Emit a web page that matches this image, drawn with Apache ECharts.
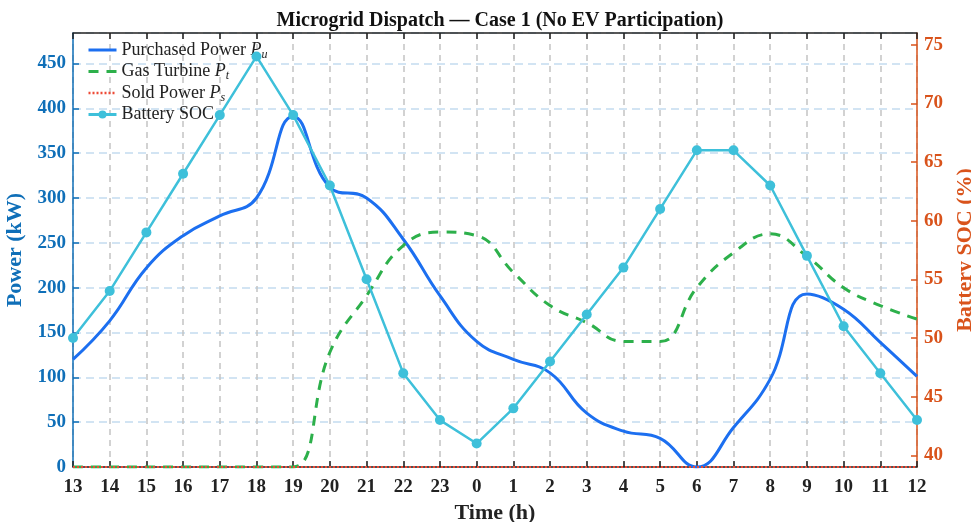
<!DOCTYPE html>
<html>
<head>
<meta charset="utf-8">
<script src="https://cdn.jsdelivr.net/npm/echarts@6/dist/echarts.min.js"></script>
<style>
  html, body { margin: 0; padding: 0; background: #fff; }
  #chart { width: 971px; height: 522px; }
</style>
</head>
<body>
<div id="chart"></div>
<script>
// hours, starting from 13:00 of day 1 to 12:00 of day 2
var hours = ['13','14','15','16','17','18','19','20','21','22','23','0','1','2','3','4','5','6','7','8','9','10','11','12'];

// power in kW
var purchased = [120,163,222,258,280,300,391,312,300,254,191,140,120,105,60,40,32,0,44,98,193,176,139,101];
var gasTurbine = [0,0,0,0,0,0,0,128,191,247,262,258,217,180,161,140,140,200,239,260,235,200,180,165];
var sold = [0,0,0,0,0,0,0,0,0,0,0,0,0,0,0,0,0,0,0,0,0,0,0,0];

// battery state of charge in %
var soc = [50,54,59,64,69,74,69,63,55,47,43,41,44,48,52,56,61,66,66,63,57,51,47,43];

var socTicks = [40,45,50,55,60,65,70,75];

var serif = 'Liberation Serif, Times New Roman, serif';
var leftColor = '#0f6fb8';
var rightColor = '#d9531b';
var noMarker = { opacity: 0 };

var chart = echarts.init(document.getElementById('chart'));

var option = {
  backgroundColor: '#fff',
  animation: false,
  title: {
    text: 'Microgrid Dispatch \u2014 Case 1 (No EV Participation)',
    left: 495,
    textAlign: 'center',
    top: 6,
    textStyle: { fontFamily: serif, fontWeight: 'bold', fontSize: 20, color: '#111' }
  },
  legend: {
    orient: 'vertical',
    left: 82,
    top: 36,
    itemWidth: 28,
    itemHeight: 10,
    itemGap: 2,
    textStyle: {
      fontFamily: serif, fontSize: 18, color: '#222',
      rich: {
        n: { fontFamily: serif, fontSize: 18, color: '#222' },
        i: { fontFamily: serif, fontSize: 18, fontStyle: 'italic', color: '#222' },
        s: { fontFamily: serif, fontSize: 12, fontStyle: 'italic', color: '#222', padding: [9, 0, 0, 0] }
      }
    },
    formatter: function (name) {
      if (name === 'Purchased Power') return '{n|Purchased Power }{i|P}{s|u}';
      if (name === 'Gas Turbine') return '{n|Gas Turbine }{i|P}{s|t}';
      if (name === 'Sold Power') return '{n|Sold Power }{i|P}{s|s}';
      return '{n|' + name + '}';
    },
    data: [
      { name: 'Purchased Power', itemStyle: noMarker, lineStyle: { width: 3 } },
      { name: 'Gas Turbine', itemStyle: noMarker, lineStyle: { width: 3 } },
      { name: 'Sold Power', itemStyle: noMarker, lineStyle: { width: 2.5 } },
      { name: 'Battery SOC', lineStyle: { width: 3 } }
    ]
  },
  grid: { left: 73, right: 54, top: 33, bottom: 55, containLabel: false, outerBoundsMode: 'none' },
  xAxis: [
    {
      type: 'category',
      data: hours,
      boundaryGap: false,
      name: 'Time (h)',
      nameLocation: 'middle',
      nameGap: 29,
      nameTextStyle: { fontFamily: serif, fontWeight: 'bold', fontSize: 22, color: '#222' },
      axisLine: { lineStyle: { color: '#222', width: 1.5 } },
      axisTick: { inside: true, length: 6, alignWithLabel: true, lineStyle: { color: '#222', width: 1.5 } },
      axisLabel: { fontFamily: serif, fontWeight: 'bold', fontSize: 19, color: '#222', margin: 11, interval: 0 },
      splitLine: { show: true, lineStyle: { color: '#c4c4c4', type: [6, 5], width: 1.5 } }
    },
    {
      type: 'category',
      data: hours,
      boundaryGap: false,
      position: 'top',
      axisLine: { lineStyle: { color: '#222', width: 1.5 } },
      axisTick: { inside: true, length: 6, alignWithLabel: true, lineStyle: { color: '#222', width: 1.5 } },
      axisLabel: { show: false },
      splitLine: { show: false }
    }
  ],
  yAxis: [
    {
      type: 'value',
      min: 0,
      max: 484,
      interval: 50,
      name: 'Power (kW)',
      nameLocation: 'middle',
      nameGap: 38,
      nameTextStyle: { fontFamily: serif, fontWeight: 'bold', fontSize: 22, color: leftColor },
      axisLine: { show: true, lineStyle: { color: leftColor, width: 1.5 } },
      axisTick: { show: true, inside: true, length: 6, lineStyle: { color: leftColor, width: 1.5 } },
      axisLabel: { fontFamily: serif, fontWeight: 'bold', fontSize: 19, color: leftColor, margin: 7, showMaxLabel: false },
      splitLine: { show: true, lineStyle: { color: '#c3dcef', type: [8, 5], width: 1.5 } }
    },
    {
      type: 'value',
      min: 39,
      max: 76,
      position: 'right',
      name: 'Battery SOC (%)',
      nameLocation: 'middle',
      nameGap: 34,
      nameRotate: 90,
      nameTextStyle: { fontFamily: serif, fontWeight: 'bold', fontSize: 22, color: rightColor },
      axisLine: { show: true, lineStyle: { color: rightColor, width: 1.5 } },
      axisTick: { show: true, inside: true, length: 6, customValues: socTicks, lineStyle: { color: rightColor, width: 1.5 } },
      axisLabel: { fontFamily: serif, fontWeight: 'bold', fontSize: 19, color: rightColor, margin: 7, customValues: socTicks },
      splitLine: { show: false }
    }
  ],
  series: [
    {
      name: 'Purchased Power',
      type: 'line',
      yAxisIndex: 0,
      data: purchased,
      smooth: 0.45,
      symbol: 'none',
      lineStyle: { color: '#1c6ff0', width: 3 },
      itemStyle: { color: '#1c6ff0' },
      z: 3
    },
    {
      name: 'Gas Turbine',
      type: 'line',
      yAxisIndex: 0,
      data: gasTurbine,
      smooth: 0.45,
      symbol: 'none',
      lineStyle: { color: '#2db04b', width: 3, type: [10, 8] },
      itemStyle: { color: '#2db04b' },
      z: 3
    },
    {
      name: 'Sold Power',
      type: 'line',
      yAxisIndex: 0,
      data: sold,
      symbol: 'none',
      lineStyle: { color: '#ee4a36', width: 2, type: [2, 2] },
      itemStyle: { color: '#ee4a36' },
      z: 5
    },
    {
      name: 'Battery SOC',
      type: 'line',
      yAxisIndex: 1,
      data: soc,
      symbol: 'circle',
      symbolSize: 10,
      lineStyle: { color: '#3ec0da', width: 2.5 },
      itemStyle: { color: '#3ec0da' },
      z: 4
    }
  ]
};

chart.setOption(option);
</script>
</body>
</html>
